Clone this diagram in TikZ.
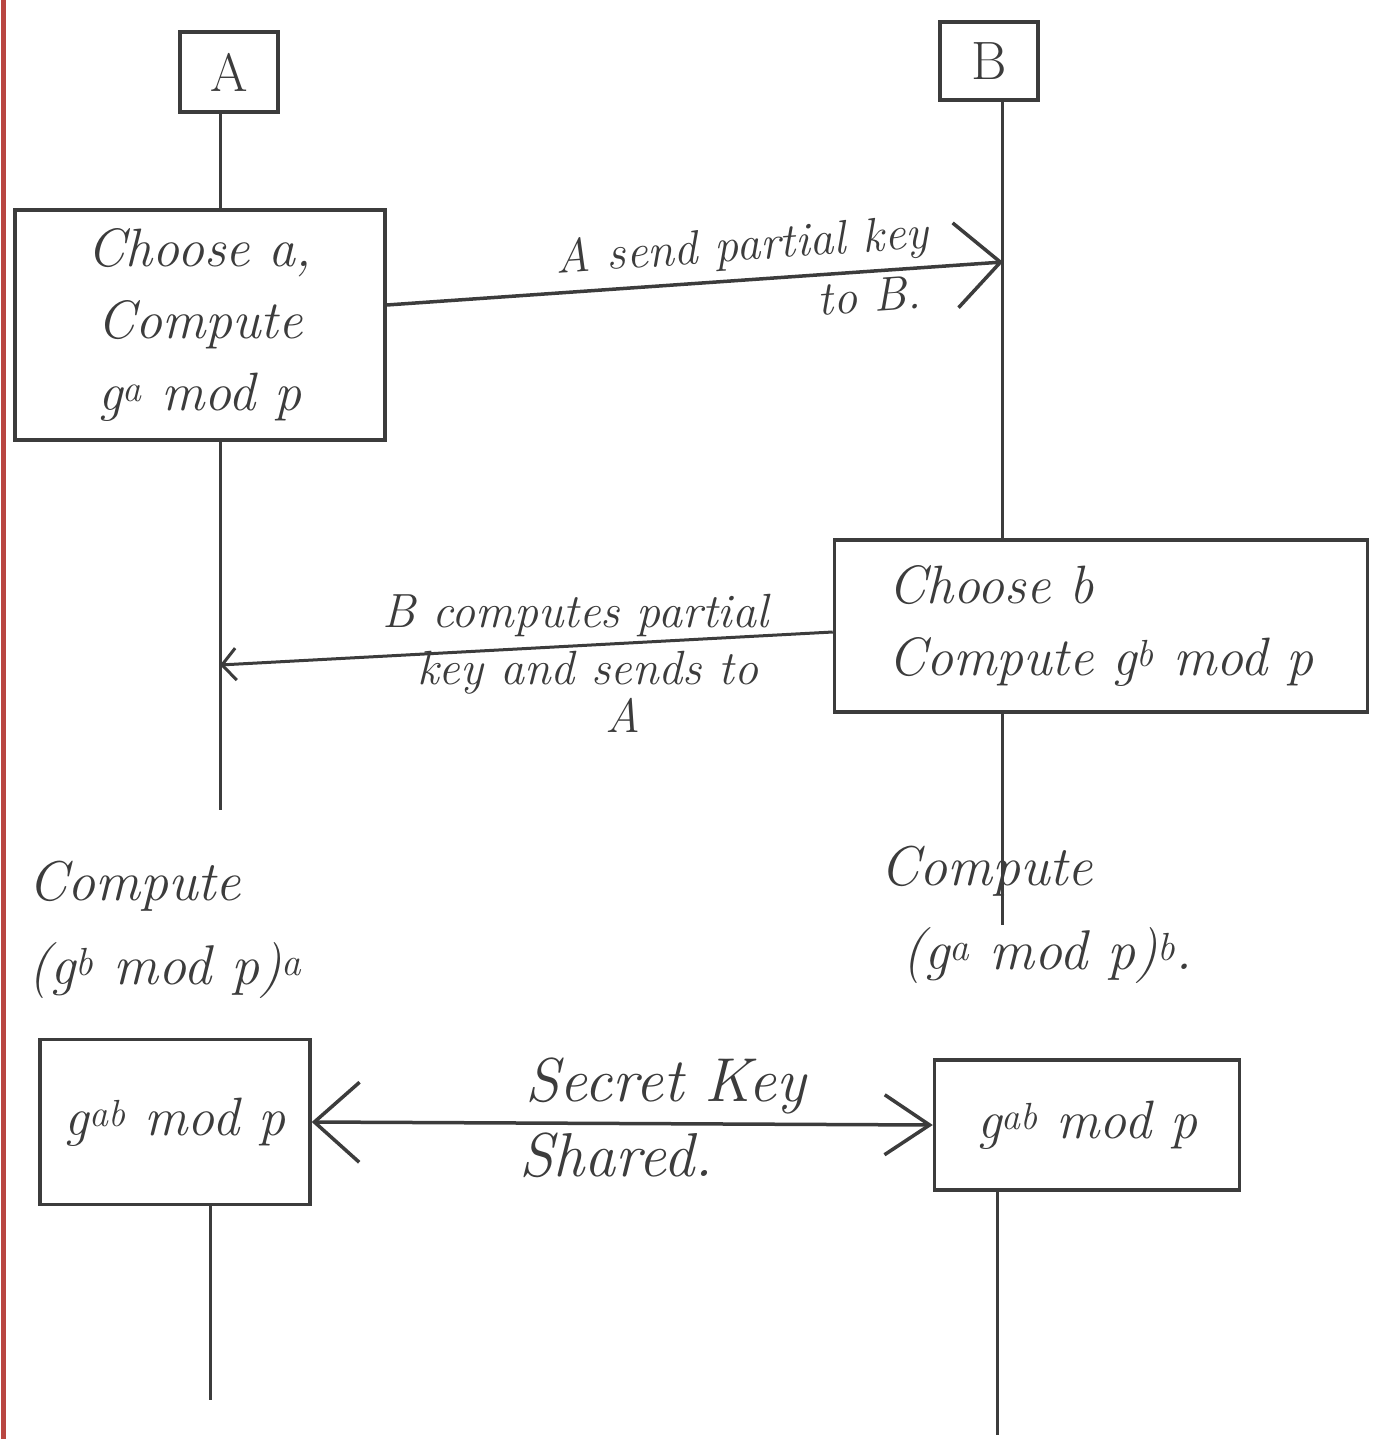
\documentclass[tikz,border=0pt]{standalone}
\usetikzlibrary{arrows.meta}
\definecolor{ink}{RGB}{60,60,60}
\definecolor{margin}{RGB}{185,70,65}
\begin{document}
\begin{tikzpicture}[x=1pt,y=-1pt,
  ink/.style={draw=ink,line width=3.5pt},
  box/.style={ink,rectangle,inner sep=0pt,text=ink,font={\fontsize{54}{72}\selectfont\itshape}},
  lbl/.style={text=ink,font={\fontsize{48}{66}\selectfont\itshape},inner sep=2pt},
  txt/.style={text=ink,font={\fontsize{56}{84}\selectfont\itshape},inner sep=0pt},
  life/.style={draw=ink,line width=3pt},
  bigtip/.style={-{Straight Barb[length=45pt,width=85pt,line width=3.5pt]}},
  smalltip/.style={-{Straight Barb[length=14pt,width=32pt,line width=3pt]}},
  dbltip/.style={{Straight Barb[length=45pt,width=80pt,line width=3.5pt]}-{Straight Barb[length=45pt,width=60pt,line width=3.5pt]}}
]
\useasboundingbox[fill=white] (0,0) rectangle (1388,1439);
% notebook margin
\coordinate (mt) at (3,0);
\coordinate (mb) at (3,1439);
\draw[margin,line width=5pt] (mt) -- (mb);

% lifeline x positions
\coordinate (la) at (220,0);
\coordinate (lb) at (1002,0);

% participants
\node[box,minimum width=98pt,minimum height=80pt] (nA) at (229,72) {\upshape A};
\node[box,minimum width=98pt,minimum height=78pt] (nB) at (989,61) {\upshape B};

% boxes
\node[box,minimum width=370pt,minimum height=230pt,align=center] (ca) at (200,325)
  {Choose a,\\Compute\\g\textsuperscript{a} mod p};
\node[box,minimum width=533pt,minimum height=172pt,align=left] (cb) at (1101,626)
  {Choose b\\Compute g\textsuperscript{b} mod p};
\node[box,minimum width=270pt,minimum height=165pt] (gl) at (175,1122)
  {g\textsuperscript{ab} mod p};
\node[box,minimum width=305pt,minimum height=130pt] (gr) at (1087,1125)
  {g\textsuperscript{ab} mod p};

% free texts
\node[txt,align=left,anchor=west] (cl) at (28,930) {Compute\\(g\textsuperscript{b} mod p)\textsuperscript{a}};
\node[txt,align=left,anchor=west] (cr) at (880,915) {Compute\\\hspace*{22pt}(g\textsuperscript{a} mod p)\textsuperscript{b}.};

% lifeline end points
\coordinate (aMid) at (220,810);
\coordinate (aEnd) at (210,1400);
\coordinate (bMid) at (1002,925);
\coordinate (bEnd) at (997,1435);
\coordinate (m1) at (1003,262);
\coordinate (m2) at (220,665);

% lifelines
\draw[life] (nA.south -| la) -- (ca.north -| la);
\draw[life] (ca.south -| la) -- (aMid);
\draw[life] (gl.south -| aEnd) -- (aEnd);
\draw[life] (nB.south -| lb) -- (cb.north -| lb);
\draw[life] (cb.south -| lb) -- (bMid);
\draw[life] (gr.south -| bEnd) -- (bEnd);

% messages
\draw[ink,bigtip] ([yshift=20pt]ca.east) -- (m1)
  node[lbl,pos=0.58,above=6pt,sloped] {A send partial key}
  node[lbl,pos=0.78,below=4pt,sloped] {to B.};
\draw[life,smalltip] ([yshift=-6pt]cb.west) -- (m2)
  node[lbl,pos=0.42,above=6pt] {B computes partial}
  node[lbl,pos=0.40,below=2pt,align=center,font={\fontsize{48}{48}\selectfont\itshape}] {key and sends to\\\hspace*{70pt}A};
\draw[ink,dbltip] (gl.east) -- (gr.west)
  node[lbl,pos=0.57,above=6pt,font={\fontsize{62}{66}\selectfont\itshape}] {Secret Key}
  node[lbl,pos=0.49,below=6pt,font={\fontsize{62}{66}\selectfont\itshape}] {Shared.};
\end{tikzpicture}
\end{document}
